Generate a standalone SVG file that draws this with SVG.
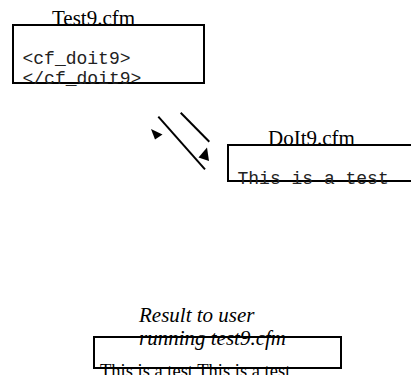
<svg xmlns="http://www.w3.org/2000/svg" width="411" height="375" viewBox="0 0 411 375">
<style>
.box{fill:#fff;stroke:#000;stroke-width:2}
.title{font-family:"Liberation Serif",serif;font-size:21px;fill:#000}
.ital{font-family:"Liberation Serif",serif;font-size:21px;font-style:italic;fill:#000}
.mono{font-family:"Liberation Mono",monospace;font-size:18px;fill:#222}
.body{font-family:"Liberation Serif",serif;font-size:18.5px;fill:#000}
.conn{stroke:#000;stroke-width:2;fill:none}
.head{fill:#000;stroke:none}
</style>
<rect width="411" height="375" fill="#fff"/>
<g id="test9">
<rect class="box" x="13" y="25" width="191" height="58"/>
<text class="title" x="52" y="25">Test9.cfm</text>
<text class="mono" x="22.5" y="64">&lt;cf_doit9&gt;</text>
<text class="mono" x="22.5" y="84">&lt;/cf_doit9&gt;</text>
</g>
<g id="doit9">
<rect class="box" x="228" y="145" width="190" height="36"/>
<text class="title" x="268" y="145">DoIt9.cfm</text>
<text class="mono" x="237.5" y="184">This is a test</text>
</g>
<g id="result">
<rect class="box" x="94" y="337" width="247" height="31"/>
<text class="ital" x="139" y="322">Result to user</text>
<text class="ital" x="139" y="345">running test9.cfm</text>
<text class="body" x="100" y="377">This is a test This is a test</text>
</g>
<g id="connectors">
<line class="conn" x1="158.3" y1="116.7" x2="205" y2="169.3"/>
<line class="conn" x1="180.7" y1="112.7" x2="209.3" y2="141.7"/>
<polygon class="head" points="151,129 162.5,134.5 155,139.5"/>
<polygon class="head" points="198.5,157.5 207,147.5 209,161"/>
</g>
</svg>
